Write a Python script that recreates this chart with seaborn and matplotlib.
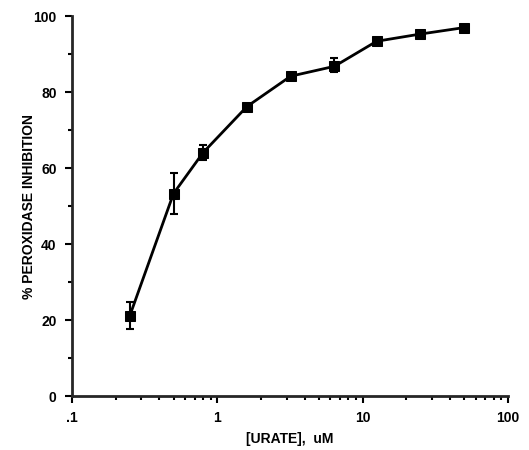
import numpy as np
import pandas as pd
import matplotlib
matplotlib.use("Agg")
import matplotlib.pyplot as plt
import matplotlib.ticker as mticker
import seaborn as sns

# data
urate_um = [0.25, 0.5, 0.8, 1.6, 3.2, 6.4, 12.5, 25, 50]
inhibition = [21.1, 53.3, 64.1, 76.2, 84.2, 86.8, 93.4, 95.3, 97.0]
err_low = [3.5, 5.3, 2.0, 0.6, 0.6, 1.6, 0.6, 0.8, 0.6]
err_high = [3.6, 5.3, 2.0, 0.6, 0.6, 2.2, 0.6, 0.8, 0.6]
x_ticks = [0.1, 1, 10, 100]
x_ticklabels = [".1", "1", "10", "100"]

df = pd.DataFrame({"urate": urate_um, "inhibition": inhibition})

sns.set_style("ticks")
plt.rcParams['font.family'] = ['Liberation Sans', 'DejaVu Sans']
plt.rcParams['font.weight'] = 'bold'
plt.rcParams['text.color'] = 'black'
plt.rcParams['axes.labelcolor'] = 'black'
plt.rcParams['xtick.color'] = 'black'
plt.rcParams['ytick.color'] = 'black'

fig = plt.figure(figsize=(5.29, 4.5), dpi=100)
ax = fig.add_axes([0.136, 0.12, 0.824, 0.844])

ax.errorbar(urate_um, inhibition, yerr=[err_low, err_high], fmt='none',
            ecolor='black', elinewidth=1.5, capsize=3, capthick=1.5, zorder=2)
sns.lineplot(data=df, x="urate", y="inhibition", ax=ax, color='black',
             linewidth=2, marker='s', markersize=6.5, markeredgecolor='black',
             zorder=3)

ax.set_xscale('log')
ax.set_xlim(0.1, 100)
ax.set_ylim(0, 100)
ax.set_xticks(x_ticks)
ax.set_xticklabels(x_ticklabels)
ax.xaxis.set_minor_locator(mticker.LogLocator(base=10, subs=np.arange(2, 10)))
ax.xaxis.set_minor_formatter(mticker.NullFormatter())
ax.set_yticks([0, 20, 40, 60, 80, 100])
ax.yaxis.set_minor_locator(mticker.MultipleLocator(10))

ax.tick_params(axis='both', which='major', length=5, width=1.5, labelsize=10, pad=6)
ax.tick_params(axis='both', which='minor', length=3, width=1.5)
for lab in ax.get_xticklabels() + ax.get_yticklabels():
    lab.set_fontweight('bold')

for s in ['left', 'bottom']:
    ax.spines[s].set_linewidth(2)
sns.despine(ax=ax)

ax.set_xlabel("[URATE],  uM", fontsize=10, fontweight='bold')
ax.set_ylabel("% PEROXIDASE INHIBITION", fontsize=10, fontweight='bold')
ax.xaxis.set_label_coords(0.5, -0.095)
ax.yaxis.set_label_coords(-0.083, 0.5)

fig.savefig("out.png", dpi=100)
